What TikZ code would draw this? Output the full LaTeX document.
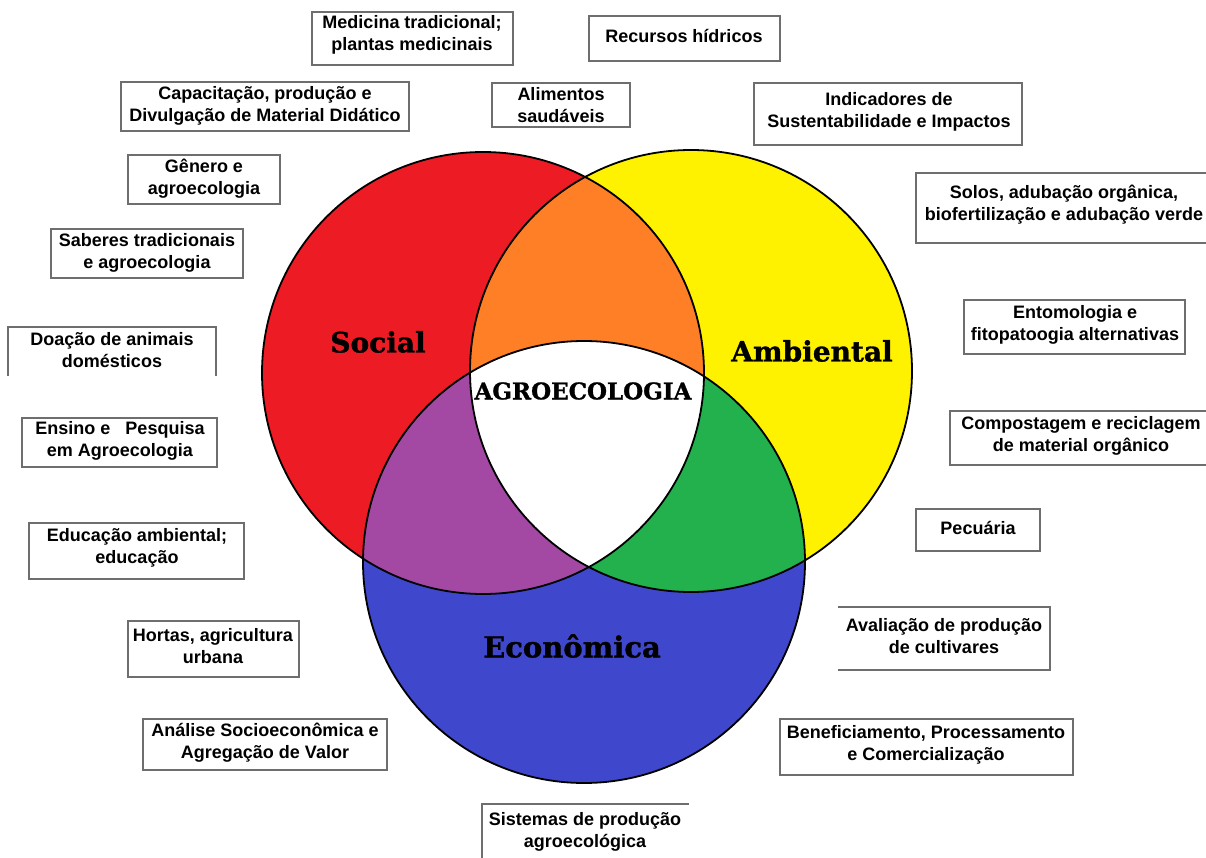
\documentclass[tikz,border=0pt]{standalone}
\usepackage{fontspec}
\setmainfont{Liberation Sans}
\newfontfamily\slab{DejaVu Serif}[BoldFeatures={FakeBold=1.2}]
\definecolor{cred}{RGB}{237,28,36}
\definecolor{cyellow}{RGB}{255,242,0}
\definecolor{cblue}{RGB}{63,72,204}
\definecolor{corange}{RGB}{255,127,39}
\definecolor{cpurple}{RGB}{163,73,164}
\definecolor{cgreen}{RGB}{34,177,76}
\definecolor{boxgray}{RGB}{110,110,110}
\begin{document}
\begin{tikzpicture}[x=1pt,y=-1pt,
  boxframe/.style={draw=boxgray,line width=1.1pt,inner sep=0pt},
  boxline/.style={draw=boxgray,line width=1.1pt},
  txt/.style={font=\fontsize{18}{22}\selectfont\bfseries,align=center,inner sep=0pt},
  biglabel/.style={font=\slab\bfseries\fontsize{28}{30}\selectfont,inner sep=0pt},
  ring/.style={draw=black,line width=1.8pt}]
\useasboundingbox (0,0) rectangle (1206,858);
\fill[white] (0,0) rectangle (1206,858);
\coordinate (S) at (483,373);
\coordinate (A) at (691,371);
\coordinate (E) at (584,562);
\def\R{221pt}
% base fills
\fill[cred] (S) circle[radius=\R];
\fill[cyellow] (A) circle[radius=\R];
\fill[cblue] (E) circle[radius=\R];
\begin{scope}
  \clip (S) circle[radius=\R];
  \fill[corange] (A) circle[radius=\R];
  \fill[cpurple] (E) circle[radius=\R];
\end{scope}
\begin{scope}
  \clip (A) circle[radius=\R];
  \fill[cgreen] (E) circle[radius=\R];
\end{scope}
\begin{scope}
  \clip (S) circle[radius=\R];
  \clip (A) circle[radius=\R];
  \fill[white] (E) circle[radius=\R];
\end{scope}
\draw[ring] (S) circle[radius=\R];
\draw[ring] (A) circle[radius=\R];
\draw[ring] (E) circle[radius=\R];
% circle labels
\node[biglabel] (social) at (378,342) {Social};
\node[biglabel] (ambiental) at (812,351) {Ambiental};
\node[biglabel,font=\slab\bfseries\fontsize{29}{30}\selectfont] (economica) at (572,646) {Econômica};
\node[biglabel,font=\slab\bfseries\fontsize{23}{25}\selectfont] (agro) at (583,391) {AGROECOLOGIA};
% closed boxes
\node[boxframe,minimum width=201pt,minimum height=53pt] (f1) at (412.5,38.5) {};
\node[txt] (t1) at (412,35) {Medicina tradicional;\\plantas medicinais};
\node[boxframe,minimum width=191pt,minimum height=45pt] (f2) at (684.5,38.5) {};
\node[txt] (t2) at (684,36) {Recursos hídricos};
\node[boxframe,minimum width=138pt,minimum height=44pt] (f3) at (561,105) {};
\node[txt] (t3) at (561,105.5) {Alimentos\\saudáveis};
\node[boxframe,minimum width=288pt,minimum height=49pt] (f4) at (265,106.5) {};
\node[txt] (t4) at (265,106) {Capacitação, produção e\\Divulgação de Material Didático};
\node[boxframe,minimum width=152pt,minimum height=49pt] (f5) at (204,179.5) {};
\node[txt] (t5) at (204,179) {Gênero e\\agroecologia};
\node[boxframe,minimum width=192pt,minimum height=49pt] (f6) at (147,253.5) {};
\node[txt] (t6) at (147,252.5) {Saberes tradicionais\\e agroecologia};
\node[boxframe,minimum width=268pt,minimum height=62pt] (f7) at (888,114) {};
\node[txt] (t7) at (889,111.5) {Indicadores de\\Sustentabilidade e Impactos};
\node[boxframe,minimum width=221pt,minimum height=54pt] (f9) at (1074.5,327) {};
\node[txt] (t9) at (1075,324.5) {Entomologia e\\fitopatoogia alternativas};
\node[boxframe,minimum width=195pt,minimum height=49pt] (f11) at (119.5,442.5) {};
\node[txt] (t11) at (120,441) {Ensino e\ \ \ Pesquisa\\em Agroecologia};
\node[boxframe,minimum width=215pt,minimum height=56pt] (f12) at (136.5,551) {};
\node[txt] (t12) at (137,548) {Educação ambiental;\\educação};
\node[boxframe,minimum width=124pt,minimum height=42pt] (f14) at (978,530) {};
\node[txt] (t14) at (978,528) {Pecuária};
\node[boxframe,minimum width=293pt,minimum height=56pt] (f16) at (926.5,747) {};
\node[txt] (t16) at (926,744.5) {Beneficiamento, Processamento\\e Comercialização};
\node[boxframe,minimum width=171pt,minimum height=56pt] (f17) at (213.5,649) {};
\node[txt] (t17) at (213,646) {Hortas, agricultura\\urbana};
\node[boxframe,minimum width=244pt,minimum height=51pt] (f18) at (265,744.5) {};
\node[txt] (t18) at (265,742.5) {Análise Socioeconômica e\\Agregação de Valor};
% boxes clipped or with open sides
\draw[boxline] (1212,173) -- (916,173) -- (916,243) -- (1212,243);
\node[txt] (t8) at (1064,205) {Solos, adubação orgânica,\\biofertilização e adubação verde};
\draw[boxline] (8,376) -- (8,327) -- (216,327) -- (216,376);
\node[txt] (t10) at (112,350) {Doação de animais\\domésticos};
\draw[boxline] (1212,411) -- (950,411) -- (950,465) -- (1212,465);
\node[txt] (t13) at (1081,436) {Compostagem e reciclagem\\de material orgânico};
\draw[boxline] (838,607) -- (1050,607) -- (1050,670) -- (838,670);
\node[txt] (t15) at (944,636) {Avaliação de produção\\de cultivares};
\draw[boxline] (482,862) -- (482,804) -- (689,804);
\node[txt] (t19) at (585,831.5) {Sistemas de produção\\agroecológica};
\end{tikzpicture}
\end{document}
